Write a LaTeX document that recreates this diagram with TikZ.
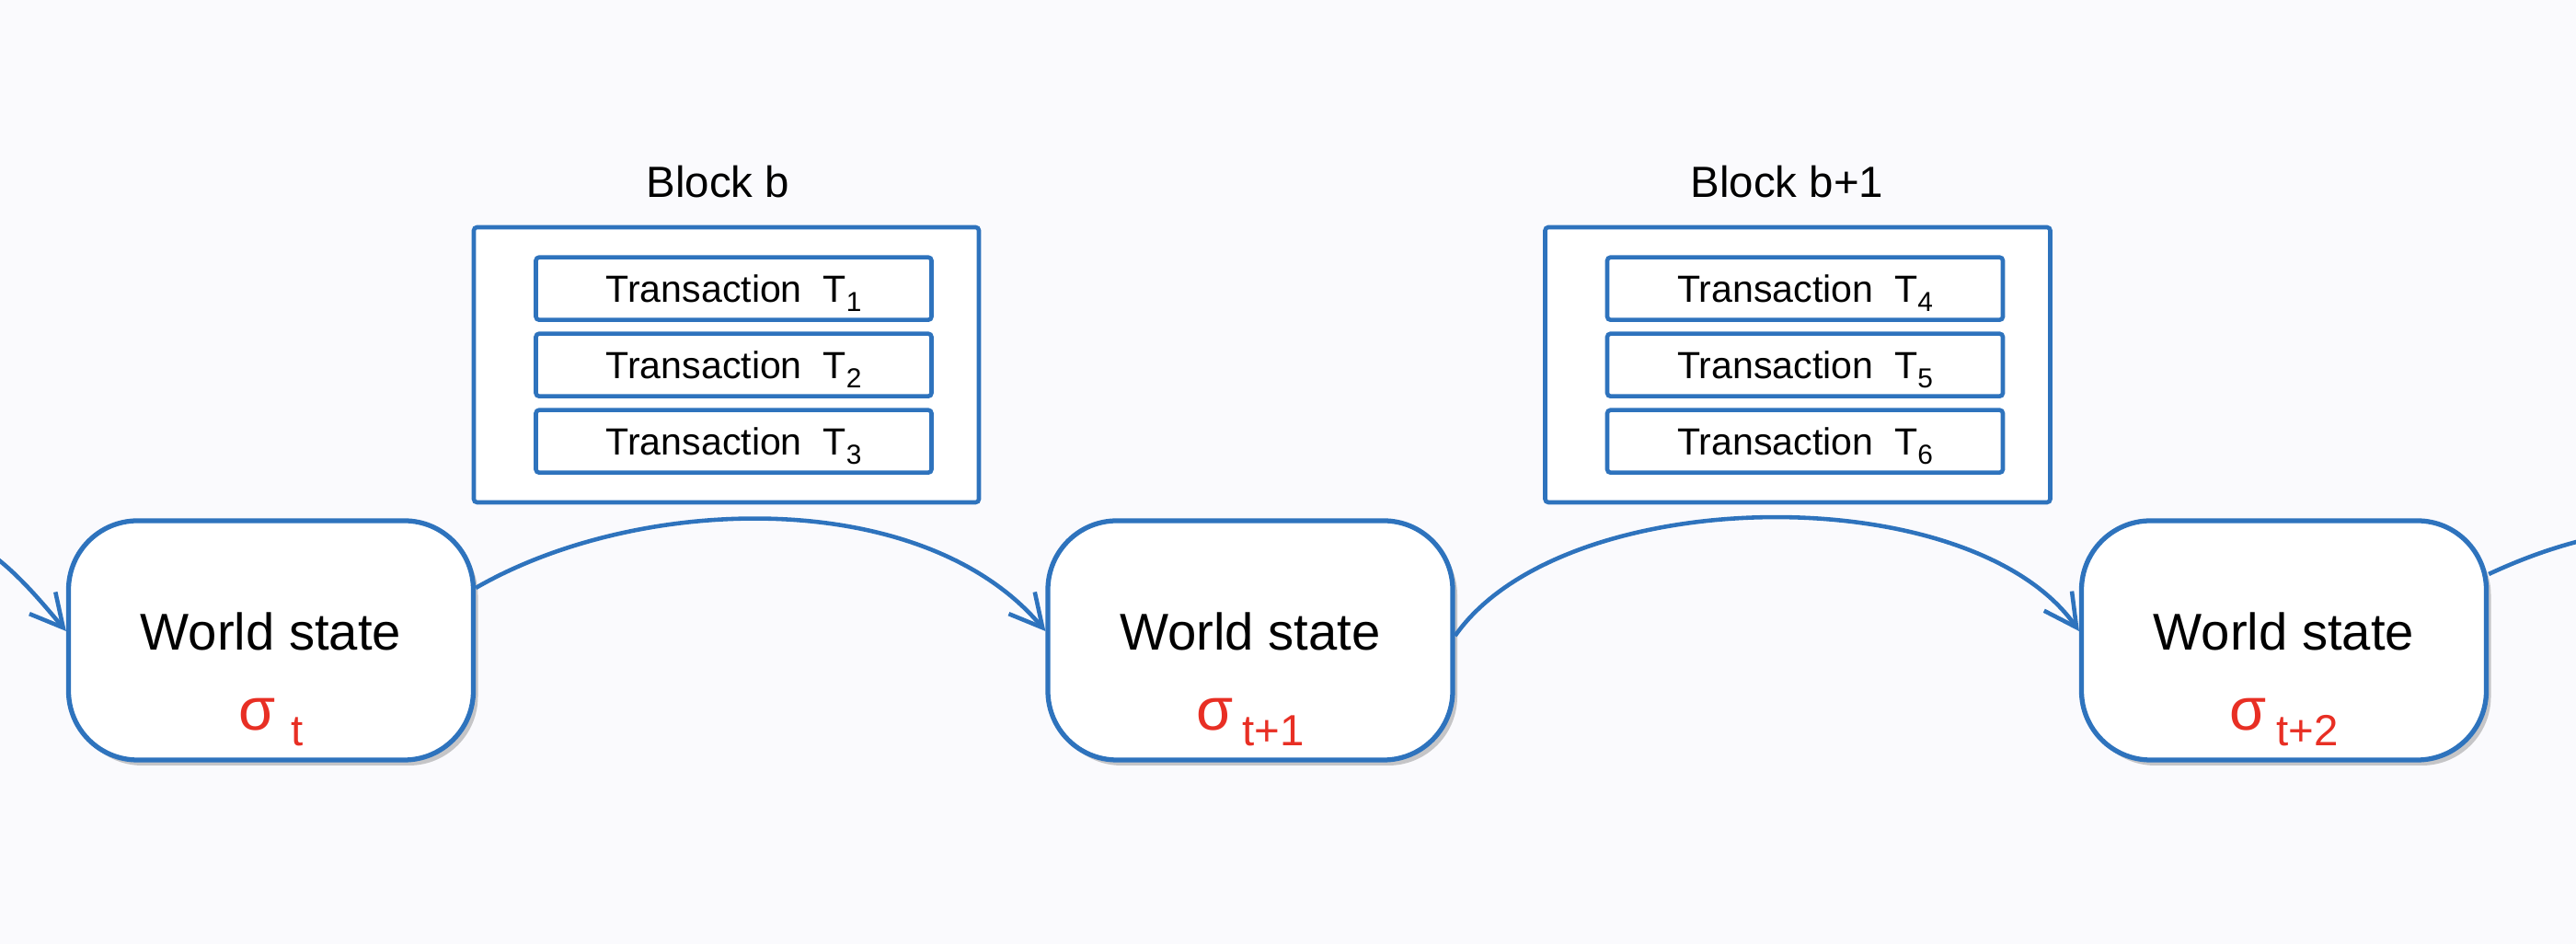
\documentclass[tikz,border=0pt]{standalone}
\usepackage{fontspec}
\setmainfont{Liberation Sans}
\usepackage{tikz}
\usetikzlibrary{arrows.meta,positioning,shadows}

\newcommand{\txnsub}[1]{\raisebox{-3pt}{\fontsize{8.5}{10}\selectfont #1}}

\begin{document}
\begin{tikzpicture}[
    state/.style={rectangle, draw=flowblue, line width=1.5pt, rounded corners=0.75cm, fill=white, minimum width=4.4cm, minimum height=2.6cm, drop shadow={shadow xshift=0.05cm, shadow yshift=-0.06cm, opacity=0.3, fill=black!70}},
    statetext/.style={anchor=base, inner sep=0pt, font=\fontsize{16}{19}\selectfont},
    sigmatext/.style={anchor=base, inner sep=0pt, text=sigmared},
    block/.style={rectangle, draw=flowblue, line width=1.3pt, rounded corners=1pt, fill=white, minimum width=5.49cm, minimum height=2.99cm},
    blocktext/.style={anchor=base, inner sep=0pt, font=\fontsize{13.5}{16}\selectfont},
    txn/.style={rectangle, draw=flowblue, line width=1.3pt, rounded corners=1pt, fill=white, minimum width=4.3cm, minimum height=0.68cm, outer sep=0pt, text height=8.4pt, text depth=0pt, font=\fontsize{11.7}{14}\selectfont},
    flow/.style={draw=flowblue, line width=1.3pt, -{Straight Barb[length=10pt, width=10.5pt]}}
]

% Define colors
\definecolor{flowblue}{RGB}{46,115,189}     % border blue
\definecolor{sigmared}{RGB}{232,47,36}      % state symbol red
\definecolor{bgcolor}{RGB}{250,250,253}     % page

% Canvas
\path[use as bounding box, fill=bgcolor] (0,0) rectangle (28,10.26);
\clip (0,0) rectangle (28,10.26);

% Blocks
\node[block] (blockb) at (7.895,6.295) {};
\node[blocktext] (blockblabel) at (7.805,8.11) {Block b};
\node[txn] (t2) at (7.975,6.293) {Transaction~~T\txnsub{2}};
\node[txn, above=0.15cm of t2] (t1) {Transaction~~T\txnsub{1}};
\node[txn, below=0.15cm of t2] (t3) {Transaction~~T\txnsub{3}};

\node[block] (blockb1) at (19.54,6.295) {};
\node[blocktext] (blockb1label) at (19.425,8.11) {Block b+1};
\node[txn] (t5) at (19.62,6.293) {Transaction~~T\txnsub{5}};
\node[txn, above=0.15cm of t5] (t4) {Transaction~~T\txnsub{4}};
\node[txn, below=0.15cm of t5] (t6) {Transaction~~T\txnsub{6}};

% World states
\node[state] (ws1) at (2.945,3.30) {};
\node[statetext] (ws1text) at ([yshift=-0.11cm]ws1.center) {World state};
\node[sigmatext] (ws1sigma) at ([yshift=-0.98cm]ws1.center) {{\fontsize{18.5}{20}\selectfont σ}\hspace{5pt}\raisebox{-4.8pt}{\fontsize{13.5}{16}\selectfont t}};

\node[state] (ws2) at (13.59,3.30) {};
\node[statetext] (ws2text) at ([yshift=-0.11cm]ws2.center) {World state};
\node[sigmatext] (ws2sigma) at ([yshift=-0.98cm]ws2.center) {{\fontsize{18.5}{20}\selectfont σ}\hspace{3pt}\raisebox{-4.8pt}{\fontsize{13.5}{16}\selectfont t+1}};

\node[state] (ws3) at (24.825,3.30) {};
\node[statetext] (ws3text) at ([yshift=-0.11cm]ws3.center) {World state};
\node[sigmatext] (ws3sigma) at ([yshift=-0.98cm]ws3.center) {{\fontsize{18.5}{20}\selectfont σ}\hspace{3pt}\raisebox{-4.8pt}{\fontsize{13.5}{16}\selectfont t+2}};

% Transitions
\coordinate (prevstate) at (-1.2,4.55);
\coordinate (nextstate) at (31,4.55);
\draw[flow] (prevstate) to[out=5, in=130] ([yshift=0.1cm]ws1.west);
\draw[flow] ([yshift=0.57cm]ws1.east) to[out=30, in=130, looseness=0.85] ([yshift=0.1cm]ws2.west);
\draw[flow] ([yshift=0.05cm]ws2.east) to[out=55, in=125, looseness=0.77] ([yshift=0.1cm]ws3.west);
\draw[flow, -] ([yshift=0.72cm]ws3.east) to[out=25, in=180] (nextstate);

\end{tikzpicture}
\end{document}
